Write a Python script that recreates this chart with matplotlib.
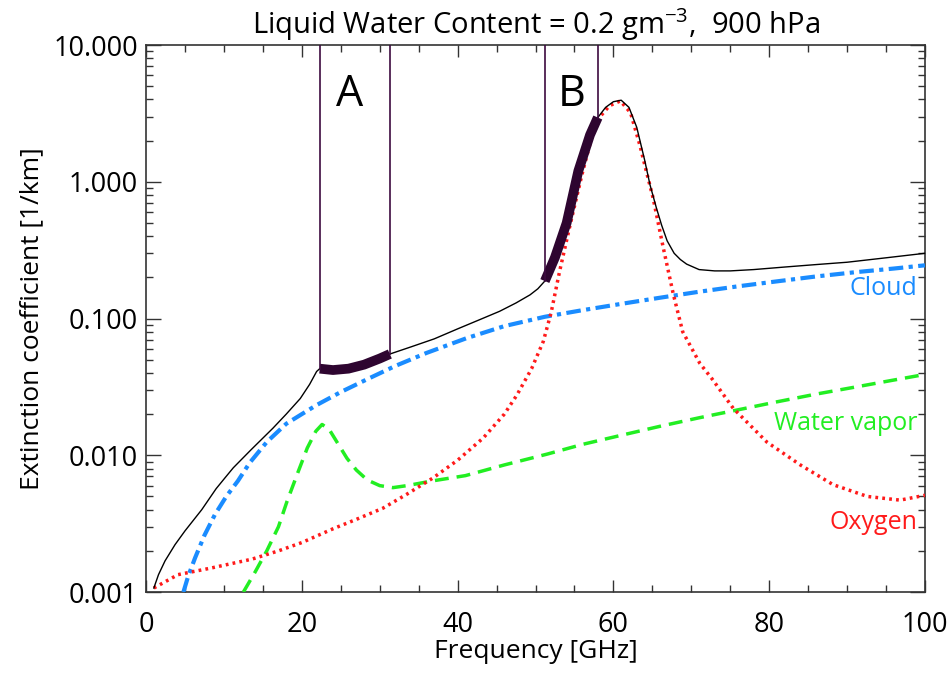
import matplotlib
matplotlib.use('Agg')
import matplotlib.pyplot as plt
from matplotlib.ticker import MultipleLocator, LogLocator, FixedLocator, NullFormatter
import numpy as np

# total extinction (black)
freq_total = [1, 1.6, 2.44, 3.72, 5, 7.15, 9, 10.1, 11.2, 13.5, 16.3, 18, 19.8, 21, 21.9, 22.3, 24,
              26, 28, 30, 31.3, 34, 37, 40, 43, 45.4, 47.5, 49.3, 50.3, 51.2, 52.5, 54, 55.5, 57,
              58, 59, 60, 61, 62, 63, 64, 64.7, 65.5, 66.2, 66.9, 67.8, 68.6, 69.4, 71, 73, 75, 78,
              82, 86, 90, 95, 100]
ext_total = [0.00107, 0.00134, 0.00169, 0.00222, 0.0028, 0.004, 0.0057, 0.0068, 0.0081, 0.011,
             0.0158, 0.02, 0.026, 0.033, 0.041, 0.043, 0.042, 0.043, 0.046, 0.051, 0.055, 0.062,
             0.071, 0.084, 0.099, 0.113, 0.13, 0.149, 0.165, 0.188, 0.28, 0.5, 1.2, 2.2, 2.95,
             3.5, 3.85, 3.95, 3.5, 2.5, 1.45, 0.95, 0.65, 0.48, 0.37, 0.3, 0.27, 0.25, 0.228,
             0.223, 0.223, 0.228, 0.238, 0.248, 0.258, 0.278, 0.3]

# cloud
freq_cloud = [4.8, 5.4, 6.3, 7.5, 8.86, 10.3, 11.8, 13.3, 15.5, 18, 20, 21.9, 25, 28.4, 32, 36, 41.2,
              46, 51.2, 56, 61, 66, 71, 76, 81, 86, 91, 96, 100]
ext_cloud = [0.001, 0.0013, 0.00178, 0.0026, 0.0037, 0.005, 0.0065, 0.0088, 0.0125, 0.017, 0.02,
             0.0233, 0.029, 0.036, 0.045, 0.056, 0.072, 0.088, 0.103, 0.115, 0.128, 0.142, 0.157,
             0.172, 0.187, 0.203, 0.218, 0.232, 0.245]

# water vapor
freq_wv = [12.5, 14, 15.5, 17, 18.1, 19.5, 20.7, 21.8, 22.6, 23.5, 24.7, 25.8, 27, 28.4, 30, 31.7,
           33.5, 36.8, 41, 46, 51.5, 56, 61, 66, 71, 76, 81, 86, 91, 96, 100]
ext_wv = [0.001, 0.0014, 0.002, 0.003, 0.0046, 0.0075, 0.0113, 0.015, 0.0168, 0.0155, 0.012, 0.0095,
          0.0078, 0.0066, 0.006, 0.0058, 0.006, 0.0065, 0.0071, 0.0085, 0.0102, 0.012, 0.014,
          0.0163, 0.0188, 0.0215, 0.0246, 0.028, 0.0315, 0.0355, 0.039]

# oxygen
freq_o2 = [1, 4.1, 8.4, 13.6, 17, 20, 24, 27, 30.4, 33.5, 36.8, 40, 43.3, 46, 47.6, 49.5, 51, 52,
           53.1, 54.5, 56, 57.2, 58.3, 59.5, 60.9, 62.2, 63.4, 64.3, 65.1, 66.4, 67.7, 68.9, 71.1,
           72.7, 75.4, 79.7, 84, 88.2, 92.6, 96.8, 100]
ext_o2 = [0.00107, 0.00134, 0.0015, 0.00174, 0.002, 0.0023, 0.0029, 0.0034, 0.0041, 0.0052, 0.0068,
          0.0092, 0.0134, 0.02, 0.0275, 0.043, 0.068, 0.11, 0.222, 0.5, 1.15, 2.1, 3.0, 3.6, 3.9,
          3.2, 1.85, 1.15, 0.76, 0.33, 0.15, 0.08, 0.047, 0.036, 0.022, 0.0125, 0.0085, 0.0061,
          0.005, 0.0047, 0.0051]

band_a = (22.3, 31.3)
band_b = (51.2, 58.0)

sans = ['Open Sans', 'DejaVu Sans']
plt.rcParams['font.family'] = sans

fig = plt.figure(figsize=(9.52, 6.77), dpi=100)
ax = fig.add_axes([0.1534, 0.1255, 0.8182, 0.808])

ax.plot(freq_total, ext_total, color='black', lw=1.0, zorder=4)
ax.plot(freq_cloud, ext_cloud, color='#1a8cff', lw=3, linestyle=(0, (3.5, 1.3, 1, 1.3)), zorder=3)
ax.plot(freq_wv, ext_wv, color='#22ee22', lw=2.5, linestyle=(0, (4, 2.3)), zorder=3)
ax.plot(freq_o2, ext_o2, color='#ff1a1a', lw=2.5, linestyle=(0, (0.8, 1.2)), zorder=3)

ft = np.array(freq_total)
et = np.array(ext_total)
purple = '#2e0530'
for lo, hi in (band_a, band_b):
    m = (ft >= lo) & (ft <= hi)
    ax.plot(ft[m], et[m], color=purple, lw=7, solid_capstyle='butt', zorder=5)
    for xv in (lo, hi):
        yv = np.interp(xv, ft, et)
        ax.plot([xv, xv], [yv, 10], color='#3d0a40', lw=1.2, zorder=5)

ax.text(26.2, 4.3, 'A', fontsize=31, ha='center', va='center')
ax.text(54.7, 4.3, 'B', fontsize=31, ha='center', va='center')

ax.text(99, 0.167, 'Cloud', color='#1a8cff', fontsize=18, ha='right', va='center')
ax.text(99, 0.0172, 'Water vapor', color='#22ee22', fontsize=18, ha='right', va='center')
ax.text(99, 0.0032, 'Oxygen', color='#ff1a1a', fontsize=18, ha='right', va='center')

ax.set_xlim(0, 100)
ax.set_yscale('log')
ax.set_ylim(0.001, 10)
ax.xaxis.set_major_locator(MultipleLocator(20))
ax.xaxis.set_minor_locator(MultipleLocator(5))
ax.yaxis.set_major_locator(FixedLocator([0.001, 0.01, 0.1, 1, 10]))
ax.yaxis.set_minor_locator(LogLocator(base=10, subs=np.arange(2, 10)))
ax.yaxis.set_minor_formatter(NullFormatter())
ax.set_yticklabels(['0.001', '0.010', '0.100', '1.000', '10.000'])
ax.set_xticks([0, 20, 40, 60, 80, 100])
ax.set_xticklabels(['0', '20', '40', '60', '80', '100'])

ax.tick_params(axis='both', which='both', direction='in', top=True, right=True, color='#333333')
ax.tick_params(axis='x', which='major', length=8.5, width=1, labelsize=19.5, pad=14)
ax.tick_params(axis='x', which='minor', length=5, width=1)
ax.tick_params(axis='y', which='major', length=11, width=1, labelsize=19.5, pad=6)
ax.tick_params(axis='y', which='minor', length=5, width=1)
for s in ax.spines.values():
    s.set_linewidth(1.2)
    s.set_color('#333333')

ax.set_xlabel('Frequency [GHz]', fontsize=19, labelpad=0)
ax.set_ylabel('Extinction coefficient [1/km]', fontsize=19, labelpad=6)
ax.set_title(r'Liquid Water Content = 0.2 gm$^{\mathregular{-3}}$,  900 hPa', fontsize=21, pad=8)

fig.savefig('out.png', dpi=100)
